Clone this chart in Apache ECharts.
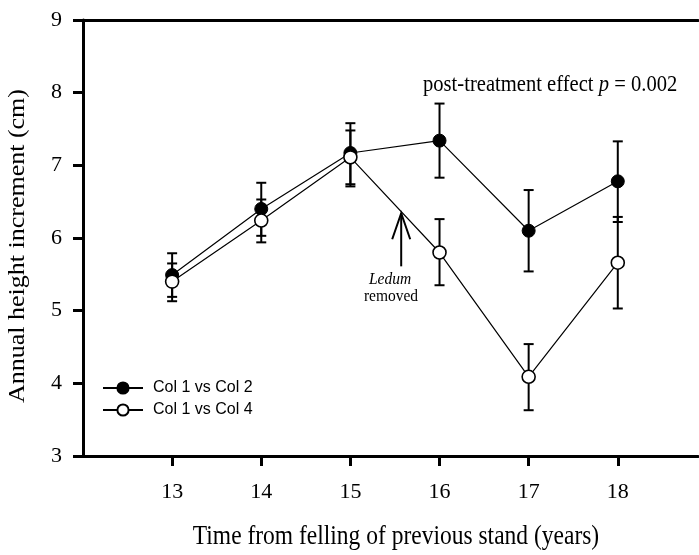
<!DOCTYPE html>
<html>
<head>
<meta charset="utf-8">
<script src="https://cdn.jsdelivr.net/npm/echarts@6/dist/echarts.min.js"></script>
<style>
html,body{margin:0;padding:0;background:#fff;}
#main{width:699px;height:555px;}
</style>
</head>
<body>
<div id="main"></div>
<script>
// 横轴：采伐后年数
var years = [13, 14, 15, 16, 17, 18];
// Col 1 vs Col 2（实心点）
var col2Mean = [5.49, 6.40, 7.17, 7.34, 6.10, 6.78];
var col2Low  = [5.19, 6.03, 6.74, 6.83, 5.54, 6.22];
var col2High = [5.79, 6.76, 7.58, 7.85, 6.66, 7.33];
// Col 1 vs Col 4（空心点）
var col4Mean = [5.40, 6.24, 7.11, 5.80, 4.09, 5.66];
var col4Low  = [5.13, 5.94, 6.71, 5.35, 3.63, 5.03];
var col4High = [5.65, 6.53, 7.48, 6.26, 4.54, 6.29];
// 箭头：x, 起点, 终点
var arrowAt = [[15.57, 5.61, 6.34]];

var serif = 'Liberation Serif, Times New Roman, serif';

function pairs(xs, ys){
  return xs.map(function(x, i){ return [x, ys[i]] })
}
function bars(xs, lo, hi){
  return xs.map(function(x, i){ return [x, lo[i], hi[i]] })
}

//误差线
function errorBar(params, api){
  var x = api.value(0);
  var lo = api.coord([x, api.value(1)]);
  var hi = api.coord([x, api.value(2)]);
  var w = 5;
  var st = {stroke:'#000', lineWidth:2};
  return {type:'group', children:[
    {type:'line', shape:{x1:lo[0], y1:lo[1], x2:hi[0], y2:hi[1]}, style:st},
    {type:'line', shape:{x1:lo[0]-w, y1:lo[1], x2:lo[0]+w, y2:lo[1]}, style:st},
    {type:'line', shape:{x1:hi[0]-w, y1:hi[1], x2:hi[0]+w, y2:hi[1]}, style:st}
  ]};
}

//箭头
function arrowItem(params, api){
  var p0 = api.coord([api.value(0), api.value(1)]);
  var p1 = api.coord([api.value(0), api.value(2)]);
  var st = {stroke:'#000', lineWidth:2, fill:null};
  return {type:'group', children:[
    {type:'line', shape:{x1:p0[0], y1:p0[1], x2:p1[0], y2:p1[1]}, style:st},
    {type:'polyline', shape:{points:[[p1[0]-9, p1[1]+26], [p1[0], p1[1]], [p1[0]+9, p1[1]+26]]}, style:st}
  ]};
}

var chart = echarts.init(document.getElementById('main'));
var option = {
  animation: false,
  backgroundColor: '#fff',
  grid: {left: 83, right: 1, top: 20, bottom: 99},
  legend: {
    data: ['Col 1 vs Col 2', 'Col 1 vs Col 4'],
    orient: 'vertical',
    left: 97,
    top: 375,
    itemWidth: 40,
    itemHeight: 14,
    itemGap: 6,
    textStyle: {fontFamily: 'Liberation Sans, Arial, sans-serif', fontSize: 16, lineHeight: 16, color: '#000', padding: [0, 0, 0, 5]}
  },
  xAxis: [{
    type: 'value', min: 12, max: 18.9, position: 'bottom',
    axisLine: {lineStyle: {color: '#000', width: 3}},
    axisTick: {inside: false, length: 10, lineStyle: {color: '#000', width: 3}, customValues: years},
    axisLabel: {customValues: years, fontFamily: serif, fontSize: 22, color: '#000', margin: 25},
    splitLine: {show: false}
  }, {
    type: 'value', min: 12, max: 18.9, position: 'top',
    axisLine: {lineStyle: {color: '#000', width: 3}},
    axisTick: {show: false}, axisLabel: {show: false}, splitLine: {show: false}
  }],
  yAxis: {
    type: 'value', min: 3, max: 9, interval: 1,
    axisLine: {show: true, lineStyle: {color: '#000', width: 3}},
    axisTick: {show: true, inside: false, length: 10, lineStyle: {color: '#000', width: 3}},
    axisLabel: {fontFamily: serif, fontSize: 22, color: '#000', margin: 21},
    splitLine: {show: false}
  },
  graphic: [
    {type: 'text', x: 423, y: 85, scaleY: 1.12, style: {
      text: '{n|post-treatment effect }{i|p}{n| = 0.002}',
      verticalAlign: 'middle', align: 'left',
      rich: {
        n: {fontFamily: serif, fontSize: 20.6, fill: '#000'},
        i: {fontFamily: serif, fontSize: 20.6, fontStyle: 'italic', fill: '#000'}
      }
    }},
    {type: 'text', x: 390, y: 279, scaleY: 1.12, style: {text: 'Ledum', font: 'italic 15.5px ' + serif, fill: '#000', align: 'center', verticalAlign: 'middle'}},
    {type: 'text', x: 391, y: 296, scaleY: 1.12, style: {text: 'removed', font: '15.5px ' + serif, fill: '#000', align: 'center', verticalAlign: 'middle'}},
    {type: 'text', x: 18, y: 246, rotation: Math.PI / 2, scaleX: 1.13, style: {
      text: 'Annual height increment (cm)', font: '23px ' + serif, fill: '#000', align: 'center', verticalAlign: 'middle'}},
    {type: 'text', x: 396, y: 537, scaleY: 1.12, style: {
      text: 'Time from felling of previous stand (years)', font: '23.5px ' + serif, fill: '#000', align: 'center', verticalAlign: 'middle'}}
  ],
  series: [
    {type: 'custom', renderItem: errorBar, data: bars(years, col2Low, col2High), encode: {x: 0, y: [1, 2]}, z: 1, silent: true},
    {type: 'custom', renderItem: errorBar, data: bars(years, col4Low, col4High), encode: {x: 0, y: [1, 2]}, z: 1, silent: true},
    {type: 'custom', renderItem: arrowItem, data: arrowAt, encode: {x: 0, y: [1, 2]}, z: 1, silent: true},
    {
      name: 'Col 1 vs Col 2', type: 'line', data: pairs(years, col2Mean), z: 3,
      symbol: 'circle', symbolSize: 13,
      lineStyle: {color: '#000', width: 1.2},
      itemStyle: {color: '#000', borderColor: '#000', borderWidth: 1}
    },
    {
      name: 'Col 1 vs Col 4', type: 'line', data: pairs(years, col4Mean), z: 4,
      symbol: 'circle', symbolSize: 13,
      lineStyle: {color: '#000', width: 1.2},
      itemStyle: {color: '#fff', borderColor: '#000', borderWidth: 1.6}
    }
  ]
};
chart.setOption(option);
</script>
</body>
</html>
